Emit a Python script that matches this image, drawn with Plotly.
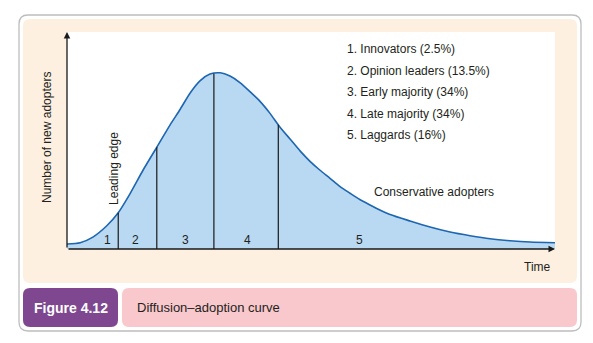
import numpy as np
import plotly.graph_objects as go

W, H = 593, 343

# Diffusion curve, time (0-100) vs. number of new adopters (0-100)
time_pts = [0.0, 2.7, 5.3, 8.1, 10.5, 12.9, 15.6, 18.4, 21.1, 23.2, 25.2, 27.3,
            29.3, 31.4, 33.4, 35.5, 37.5, 39.6, 41.6, 43.7, 45.7, 47.8, 49.8,
            51.8, 53.9, 55.9, 58.0, 60.0, 62.1, 64.1, 66.2, 70.3, 74.4, 78.5,
            82.6, 86.7, 90.8, 94.9, 100.0]
adopters = [2.3, 2.9, 5.5, 10.6, 16.7, 25.4, 36.4, 46.9, 57.1, 64.4, 71.8, 77.6,
            80.6, 81.2, 79.7, 76.6, 72.5, 67.9, 62.5, 56.0, 50.7, 45.1, 40.4,
            36.4, 32.6, 28.9, 25.7, 22.8, 20.3, 18.0, 15.9, 12.9, 10.1, 7.8,
            6.1, 4.7, 3.8, 3.2, 2.9]

# Boundaries between adopter groups
boundaries = [10.5, 18.4, 30.1, 43.3]

# Group numbers and their label positions
group_labels = ["1", "2", "3", "4", "5"]
group_label_x = [8.2, 14.1, 24.2, 36.9, 60.0]

legend_lines = [
    "1. Innovators (2.5%)",
    "2. Opinion leaders (13.5%)",
    "3. Early majority (34%)",
    "4. Late majority (34%)",
    "5. Laggards (16%)",
]

FONT = "Liberation Sans, Arial, Helvetica, sans-serif"
TXT = "#231F20"


def fx(px):
    return px / W


def fy(py):
    return 1 - py / H


def rounded(x0, y0, x1, y1, r):
    """Rounded rectangle path in paper coords from pixel corners."""
    pts = [
        (x0 + r, y0), (x1 - r, y0), ("Q", x1, y0, x1, y0 + r),
        (x1, y1 - r), ("Q", x1, y1, x1 - r, y1), (x0 + r, y1),
        ("Q", x0, y1, x0, y1 - r), (x0, y0 + r), ("Q", x0, y0, x0 + r, y0),
    ]
    p = f"M {fx(pts[0][0]):.5f},{fy(pts[0][1]):.5f}"
    for q in pts[1:]:
        if q[0] == "Q":
            p += f" Q {fx(q[1]):.5f},{fy(q[2]):.5f} {fx(q[3]):.5f},{fy(q[4]):.5f}"
        else:
            p += f" L {fx(q[0]):.5f},{fy(q[1]):.5f}"
    return p + " Z"


fig = go.Figure()

fig.add_trace(go.Scatter(
    x=time_pts, y=adopters, mode="lines",
    line=dict(color="#1D66B0", width=1.6, shape="spline", smoothing=0.7),
    fill="tozeroy", fillcolor="#B9D8F1", hoverinfo="skip",
))

# Vertical dividers from the axis up to the curve
div_x, div_y = [], []
for b in boundaries:
    top = float(np.interp(b, time_pts, adopters))
    div_x += [b, b, None]
    div_y += [0, top, None]
fig.add_trace(go.Scatter(
    x=div_x, y=div_y, mode="lines",
    line=dict(color="#1a1a1a", width=1.2), hoverinfo="skip",
))

shapes = [
    dict(type="path", xref="paper", yref="paper", path=rounded(19, 15, 581, 331, 9),
         line=dict(color="#BDBDBD", width=1.3), fillcolor="white", layer="below"),
    dict(type="path", xref="paper", yref="paper", path=rounded(23, 19, 577, 283, 7),
         line=dict(width=0), fillcolor="#FDF0E0", layer="below"),
    dict(type="rect", xref="paper", yref="paper", x0=fx(67), x1=fx(555), y0=fy(249), y1=fy(32),
         line=dict(width=0), fillcolor="white", layer="below"),
    dict(type="path", xref="paper", yref="paper", path=rounded(23, 288, 118, 327, 7),
         line=dict(width=0), fillcolor="#7E4790", layer="below"),
    dict(type="path", xref="paper", yref="paper", path=rounded(122, 288, 577, 327, 7),
         line=dict(width=0), fillcolor="#F9C8CC", layer="below"),
]

annotations = []
# Axes drawn as arrows
annotations.append(dict(x=0, y=100, ax=0, ay=0, xref="x", yref="y", axref="x", ayref="y",
                        showarrow=True, arrowhead=2, arrowsize=1, arrowwidth=1.3,
                        arrowcolor="#1a1a1a", text=""))
annotations.append(dict(x=100, y=0, ax=0, ay=0, xref="x", yref="y", axref="x", ayref="y",
                        showarrow=True, arrowhead=2, arrowsize=1, arrowwidth=1.3,
                        arrowcolor="#1a1a1a", text=""))

for lab, lx in zip(group_labels, group_label_x):
    annotations.append(dict(x=lx, y=4.3, xref="x", yref="y", text=lab, showarrow=False,
                            font=dict(family=FONT, size=12, color=TXT)))

for i, line in enumerate(legend_lines):
    annotations.append(dict(x=57.0, y=92.2 - i * 9.95, xref="x", yref="y", text=line,
                            showarrow=False, xanchor="left",
                            font=dict(family=FONT, size=12, color=TXT)))

annotations += [
    dict(x=62.5, y=26.3, xref="x", yref="y", text="Conservative adopters", showarrow=False,
         xanchor="left", font=dict(family=FONT, size=12, color=TXT)),
    dict(x=9.6, y=37.3, xref="x", yref="y", text="Leading edge", showarrow=False,
         textangle=-90, font=dict(family=FONT, size=12, color=TXT)),
    dict(x=fx(47), y=fy(138), xref="paper", yref="paper", text="Number of new adopters",
         showarrow=False, textangle=-90, xanchor="center", yanchor="middle",
         font=dict(family=FONT, size=12, color=TXT)),
    dict(x=fx(537), y=fy(267), xref="paper", yref="paper", text="Time", showarrow=False,
         xanchor="center", yanchor="middle", font=dict(family=FONT, size=12, color=TXT)),
    dict(x=fx(70.5), y=fy(307.5), xref="paper", yref="paper", text="<b>Figure 4.12</b>",
         showarrow=False, xanchor="center", yanchor="middle",
         font=dict(family=FONT, size=14, color="white")),
    dict(x=fx(135), y=fy(307.5), xref="paper", yref="paper", text="Diffusion–adoption curve",
         showarrow=False, xanchor="left", yanchor="middle",
         font=dict(family=FONT, size=13, color=TXT)),
]

fig.update_layout(
    width=W, height=H, margin=dict(l=0, r=0, t=0, b=0),
    paper_bgcolor="white", plot_bgcolor="rgba(0,0,0,0)",
    showlegend=False, shapes=shapes, annotations=annotations,
    xaxis=dict(domain=[fx(67), fx(555)], range=[0, 100], visible=False, fixedrange=True),
    yaxis=dict(domain=[fy(249), fy(32)], range=[0, 100], visible=False, fixedrange=True),
)

fig.write_html("out.html")
